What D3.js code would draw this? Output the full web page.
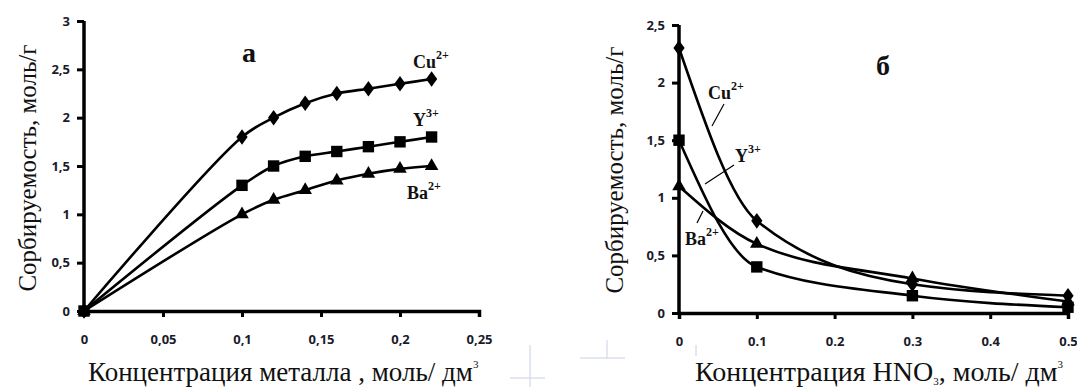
<!DOCTYPE html>
<html>
<head>
<meta charset="utf-8">
<script src="https://cdn.jsdelivr.net/npm/d3@7"></script>
<style>
  body { margin: 0; background: #fff; }
  svg { display: block; }
  .tick text { font-family: "Open Sans", "Liberation Sans", sans-serif; font-weight: bold; font-size: 13px; fill: #1a1a2a; }
  .title { font-family: "Liberation Serif", serif; fill: #111; }
  .lbl { font-family: "Liberation Serif", serif; font-weight: bold; fill: #111; }
</style>
</head>
<body>
<svg id="chart" width="1077" height="387"></svg>
<script>
// panel a: metal concentration
var xA = [0, 0.1, 0.12, 0.14, 0.16, 0.18, 0.2, 0.22];
var cuA = [0, 1.8, 2.0, 2.15, 2.25, 2.3, 2.35, 2.4];
var yA = [0, 1.3, 1.5, 1.6, 1.65, 1.7, 1.75, 1.8];
var baA = [0, 1.0, 1.15, 1.25, 1.35, 1.42, 1.47, 1.5];
var xTicksA = [0, 0.05, 0.1, 0.15, 0.2, 0.25];
var yTicksA = [0, 0.5, 1, 1.5, 2, 2.5, 3];

// panel б: HNO3 concentration
var xB = [0, 0.1, 0.3, 0.5];
var cuB = [2.3, 0.8, 0.25, 0.15];
var yB = [1.5, 0.4, 0.15, 0.05];
var baB = [1.1, 0.6, 0.3, 0.1];
var xTicksB = [0, 0.1, 0.2, 0.3, 0.4, 0.5];
var yTicksB = [0, 0.5, 1, 1.5, 2, 2.5];

var svg = d3.select("#chart");

function fmtComma(d) { return String(d).replace(".", ","); }

function panel(opt) {
    var x = d3.scaleLinear().domain(opt.xdom).range([opt.left, opt.right]);
    var y = d3.scaleLinear().domain(opt.ydom).range([opt.bottom, opt.top]);
    var g = svg.append("g");

    var xa = g.append("g")
        .attr("transform", "translate(0," + opt.bottom + ")")
        .call(d3.axisBottom(x).tickValues(opt.xticks).tickFormat(opt.xfmt).tickSize(6).tickPadding(18));
    var ya = g.append("g")
        .attr("transform", "translate(" + opt.left + ",0)")
        .call(d3.axisLeft(y).tickValues(opt.yticks).tickFormat(fmtComma).tickSize(6).tickPadding(8));
    [xa, ya].forEach(function(a) {
        a.select(".domain").attr("stroke", "#000").attr("stroke-width", 3.5);
        a.selectAll(".tick line").attr("stroke", "#000").attr("stroke-width", 3);
    });
    ya.select(".domain").attr("d", "M" + 0 + "," + y(opt.ydom[1]) + "V" + opt.bottom);
    ya.selectAll(".tick line").attr("x2", -7);

    var line = d3.line()
        .x(function(d) { return x(d[0]); })
        .y(function(d) { return y(d[1]); })
        .curve(opt.curve);

    opt.series.forEach(function(s) {
        var pts = opt.xs.map(function(v, i) { return [v, s.vals[i]]; });
        g.append("path").datum(pts)
            .attr("d", line)
            .attr("fill", "none")
            .attr("stroke", "#000")
            .attr("stroke-width", 2.6);
        g.selectAll(null).data(pts).enter().append("path")
            .attr("d", d3.symbol().type(s.sym).size(s.size))
            .attr("transform", function(d) {
                return "translate(" + x(d[0]) + "," + y(d[1]) + ")" + (s.sym === d3.symbolDiamond ? "scale(1.25,1)" : "");
            })
            .attr("fill", "#000");
    });

    // curve labels
    opt.labels.forEach(function(l) {
        var t = g.append("text").attr("class", "lbl")
            .attr("x", l.x).attr("y", l.y).attr("font-size", 18);
        t.append("tspan").text(l.base);
        t.append("tspan").text(l.sup).attr("font-size", 12).attr("dy", -9);
        if (l.lead) {
            g.append("line")
                .attr("x1", l.lead[0]).attr("y1", l.lead[1])
                .attr("x2", l.lead[2]).attr("y2", l.lead[3])
                .attr("stroke", "#000").attr("stroke-width", 1.2);
        }
    });

    // panel letter
    g.append("text").attr("class", "lbl")
        .attr("x", opt.letter[0]).attr("y", opt.letter[1])
        .attr("font-size", 28).text(opt.letter[2]);

    // y title
    g.append("text").attr("class", "title")
        .attr("transform", "translate(" + opt.ytitle[0] + "," + opt.ytitle[1] + ") rotate(-90)")
        .attr("text-anchor", "middle")
        .attr("font-size", 25)
        .text("Сорбируемость, моль/г");

    // x title
    var xt = g.append("text").attr("class", "title")
        .attr("x", opt.xtitle[0]).attr("y", opt.xtitle[1])
        .attr("font-size", opt.xsize);
    opt.xtitleParts.forEach(function(p) {
        var ts = xt.append("tspan").text(p.t);
        if (p.sup) ts.attr("font-size", 11).attr("dy", -13);
        if (p.sub) ts.attr("font-size", 11).attr("dy", 4);
        if (p.back) ts.attr("dy", p.back);
    });
}

panel({
    xdom: [0, 0.25], ydom: [0, 3],
    left: 84, right: 479, top: 21, bottom: 311,
    xticks: xTicksA, yticks: yTicksA, xfmt: fmtComma,
    xs: xA, curve: d3.curveCatmullRom.alpha(0.5),
    series: [
        { vals: cuA, sym: d3.symbolDiamond, size: 70 },
        { vals: yA, sym: d3.symbolSquare, size: 130 },
        { vals: baA, sym: d3.symbolTriangle, size: 80 }
    ],
    labels: [
        { base: "Cu", sup: "2+", x: 413, y: 68 },
        { base: "Y", sup: "3+", x: 413, y: 126 },
        { base: "Ba", sup: "2+", x: 407, y: 199 }
    ],
    letter: [242, 62, "а"],
    ytitle: [36, 168],
    xtitle: [88, 381], xsize: 27,
    xtitleParts: [{ t: "Концентрация металла , моль/ дм" }, { t: "3", sup: true }]
});

panel({
    xdom: [0, 0.5], ydom: [0, 2.5],
    left: 679, right: 1068, top: 25, bottom: 313,
    xticks: xTicksB, yticks: yTicksB, xfmt: function(d) { return String(d); },
    xs: xB, curve: d3.curveMonotoneX,
    series: [
        { vals: cuB, sym: d3.symbolDiamond, size: 70 },
        { vals: yB, sym: d3.symbolSquare, size: 130 },
        { vals: baB, sym: d3.symbolTriangle, size: 80 }
    ],
    labels: [
        { base: "Cu", sup: "2+", x: 708, y: 99, lead: [724, 104, 712, 126] },
        { base: "Y", sup: "3+", x: 735, y: 162, lead: [734, 165, 705, 184] },
        { base: "Ba", sup: "2+", x: 685, y: 245, lead: [703, 211, 697, 223] }
    ],
    letter: [876, 75, "б"],
    ytitle: [623, 170],
    xtitle: [695, 381], xsize: 28,
    xtitleParts: [{ t: "Концентрация HNO" }, { t: "3", sub: true }, { t: ", моль/ дм", back: -4 }, { t: "3", sup: true }]
});

// faint scan artefacts
var art = [[510, 378, 545, 378], [530, 345, 530, 387], [580, 358, 625, 358], [607, 340, 607, 358], [696, 345, 696, 356]];
svg.selectAll(null).data(art).enter().append("line")
    .attr("x1", function(d) { return d[0]; }).attr("y1", function(d) { return d[1]; })
    .attr("x2", function(d) { return d[2]; }).attr("y2", function(d) { return d[3]; })
    .attr("stroke", "#c8d0e4").attr("stroke-width", 1);
</script>
</body>
</html>
